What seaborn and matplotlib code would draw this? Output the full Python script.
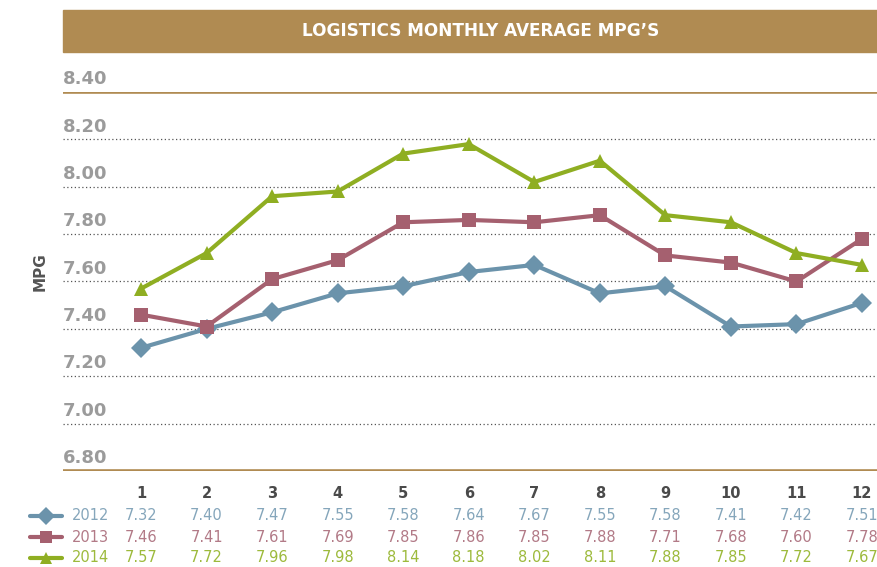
import pandas as pd
import numpy as np
import matplotlib
matplotlib.use("Agg")
import matplotlib.pyplot as plt
from matplotlib.patches import Rectangle
import seaborn as sns

# chart data
months = [1, 2, 3, 4, 5, 6, 7, 8, 9, 10, 11, 12]
years = ["2012", "2013", "2014"]
mpg_2012 = [7.32, 7.40, 7.47, 7.55, 7.58, 7.64, 7.67, 7.55, 7.58, 7.41, 7.42, 7.51]
mpg_2013 = [7.46, 7.41, 7.61, 7.69, 7.85, 7.86, 7.85, 7.88, 7.71, 7.68, 7.60, 7.78]
mpg_2014 = [7.57, 7.72, 7.96, 7.98, 8.14, 8.18, 8.02, 8.11, 7.88, 7.85, 7.72, 7.67]
y_ticks = [6.80, 7.00, 7.20, 7.40, 7.60, 7.80, 8.00, 8.20, 8.40]
title = "LOGISTICS MONTHLY AVERAGE MPG\u2019S"

colors = {"2012": "#6b93ab", "2013": "#a5606f", "2014": "#8fae22"}
text_colors = {"2012": "#85a6bb", "2013": "#b27a87", "2014": "#9dba3c"}
markers = {"2012": "D", "2013": "s", "2014": "^"}
gold = "#b08b52"
grey = "#9b9b9b"

df = pd.DataFrame({
    "month": months * 3,
    "mpg": mpg_2012 + mpg_2013 + mpg_2014,
    "year": [y for y in years for _ in months],
})
series = {"2012": mpg_2012, "2013": mpg_2013, "2014": mpg_2014}

sns.set_style("white")
plt.rcParams["font.family"] = ["DejaVu Sans"]

W, H = 877, 567
fig = plt.figure(figsize=(W / 100, H / 100), dpi=100)
ax = fig.add_axes([63 / W, (H - 471) / H, (W - 63) / W, (471 - 92) / H])

# header bar
fig.patches.append(Rectangle((63 / W, (H - 52) / H), 1 - 63 / W, 42 / H,
                             transform=fig.transFigure, color=gold, zorder=0))
fig.text(481 / W, (H - 31) / H, title, color="white", fontsize=12.2,
         fontweight="bold", ha="center", va="center")

# grid
for v in y_ticks:
    if v in (6.80, 8.40):
        ax.axhline(v, color=gold, lw=2.6, zorder=1)
    else:
        ax.axhline(v, color="#555555", lw=0.9, ls=(0, (1, 2)), zorder=1)
    ax.text(0, v + 0.016, f"{v:.2f}", transform=ax.get_yaxis_transform(),
            ha="left", va="bottom", fontsize=13, fontweight="bold", color=grey)

sns.lineplot(data=df, x="month", y="mpg", hue="year", style="year",
             palette=colors, markers=markers, dashes=False, linewidth=3,
             markersize=10, markeredgewidth=0, legend=False, ax=ax, zorder=3)

ax.set_xlim(1 - 78 / 65.5, 12 + 15 / 65.5)
ax.set_ylim(6.80, 8.40)
ax.set_xticks([])
ax.set_yticks([])
ax.set_xlabel("")
ax.set_ylabel("")
for s in ax.spines.values():
    s.set_visible(False)

fig.text(40 / W, (H - 272) / H, "MPG", rotation=90, ha="center", va="center",
         fontsize=11, fontweight="bold", color="#555555")

# data table below the chart
xt = ax.get_xaxis_transform()
for m in months:
    ax.text(m, (471 - 493) / 379, str(m), transform=xt, ha="center",
            va="center", fontsize=10.5, fontweight="bold", color="#4a4a4a")

row_y = {"2012": 516, "2013": 537, "2014": 558}
for yr in years:
    ry = (471 - row_y[yr]) / 379
    ax.plot([-33 / 814, -1 / 814], [ry, ry], transform=ax.transAxes,
            color=colors[yr], lw=3, clip_on=False)
    ax.plot([-17 / 814], [ry], transform=ax.transAxes, marker=markers[yr],
            color=colors[yr], markersize=9, markeredgewidth=0, clip_on=False)
    ax.text(9 / 814, ry, yr, transform=ax.transAxes, ha="left", va="center",
            fontsize=10.5, color=text_colors[yr])
    for m, v in zip(months, series[yr]):
        ax.text(m, ry, f"{v:.2f}", transform=xt, ha="center", va="center",
                fontsize=10.5, color=text_colors[yr])

fig.savefig("out.png", dpi=100)
